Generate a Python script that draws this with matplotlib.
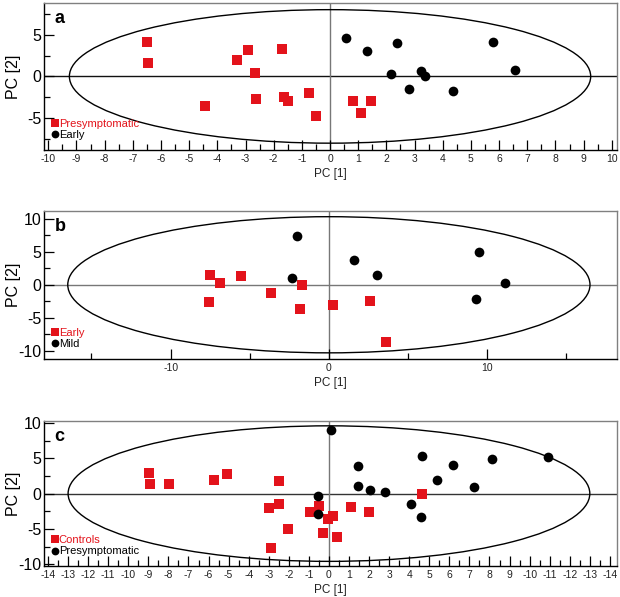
import matplotlib
matplotlib.use("Agg")
import matplotlib.pyplot as plt
from matplotlib.patches import Ellipse
from matplotlib.ticker import MultipleLocator, FixedLocator

plt.rcParams['font.family'] = ['Liberation Sans', 'DejaVu Sans']
plt.rcParams['axes.unicode_minus'] = False

RED = '#e3131b'

# panel a : Presymptomatic (red) vs Early (black)
a_red_x = [-6.5, -6.45, -3.3, -2.9, -2.65, -1.7, -4.45, -2.62, -1.65, -1.5, -0.73, -0.5, 0.82, 1.45, 1.1]
a_red_y = [4.1, 1.6, 2.0, 3.2, 0.4, 3.3, -3.5, -2.7, -2.5, -3.0, -2.0, -4.7, -2.95, -3.0, -4.4]
a_blk_x = [0.57, 1.32, 2.36, 2.17, 3.22, 3.36, 2.8, 4.37, 5.78, 6.55]
a_blk_y = [4.6, 3.1, 4.05, 0.3, 0.63, 0.08, -1.46, -1.77, 4.1, 0.75]

# panel b : Early (red) vs Mild (black)
b_red_x = [-7.5, -6.9, -5.55, -7.55, -3.65, -1.7, -1.82, 0.28, 2.6, 3.58]
b_red_y = [1.42, 0.25, 1.27, -2.6, -1.2, -0.1, -3.7, -3.05, -2.4, -8.6]
b_blk_x = [-2.0, -2.3, 1.58, 3.05, 9.5, 11.15, 9.28]
b_blk_y = [7.4, 0.96, 3.7, 1.42, 4.97, 0.3, -2.13]

# panel c : Controls (red) vs Presymptomatic (black)
c_red_x = [-8.95, -8.9, -7.95, -5.75, -5.06, -2.5, -2.97, -2.48, -2.03, -2.91,
           -0.93, -0.51, -0.04, 0.22, -0.28, 0.41, 1.12, 1.99, 4.63]
c_red_y = [2.89, 1.42, 1.42, 1.94, 2.8, 1.75, -2.0, -1.47, -5.0, -7.7,
           -2.56, -1.8, -3.55, -3.2, -5.6, -6.2, -1.85, -2.65, -0.1]
c_blk_x = [0.08, -0.55, -0.55, 1.44, 1.46, 2.03, 2.81, 4.07, 4.57, 4.63, 5.39, 6.18, 7.24, 8.11, 10.93]
c_blk_y = [8.96, -0.38, -2.9, 3.84, 1.09, 0.57, 0.24, -1.52, -3.27, 5.26, 1.99, 4.08, 0.95, 4.93, 5.17]

# tick labels of panel c as printed in the original figure
c_xticks = list(range(-14, 15))
c_xtick_labels = [str(v) for v in range(-14, 10)] + ['-10', '-11', '-12', '-13', '-14']

# hotelling ellipse half axes
a_ell = (9.25, 8.0)
b_ell = (16.5, 10.3)
c_ell = (13.0, 9.6)


def style_axes(ax, hline_color):
    ax.axhline(0, color=hline_color, lw=1.0, zorder=1)
    ax.axvline(0, color='#777777', lw=1.0, zorder=1)
    for s in ['top', 'right']:
        ax.spines[s].set_color('#808080')
    for s in ['left', 'bottom']:
        ax.spines[s].set_color('black')
    for s in ax.spines.values():
        s.set_linewidth(1.0)
    ax.tick_params(axis='both', which='both', direction='in', color='black', width=0.9)
    ax.tick_params(axis='both', which='major', length=7)
    ax.tick_params(axis='both', which='minor', length=4)
    ax.tick_params(axis='x', labelsize=7.5, pad=3, labelcolor='#222222')
    ax.tick_params(axis='y', labelsize=11.5, pad=2)
    ax.tick_params(top=False, right=False, which='both')
    ax.set_xlabel('PC [1]', fontsize=8.5, labelpad=3, color='#222222')
    ax.set_ylabel('PC [2]', fontsize=11.5)
    ax.yaxis.set_label_coords(-0.041, 0.5)
    ax.yaxis.set_major_locator(MultipleLocator(5))
    ax.yaxis.set_minor_locator(MultipleLocator(2.5))


def draw_panel(ax, letter, rx, ry, bx, by, ell, names, hline_color):
    ax.add_patch(Ellipse((0, 0), 2 * ell[0], 2 * ell[1], fill=False, ec='black', lw=1.0, zorder=2))
    ax.plot(rx, ry, 's', color=RED, ms=6.5, mew=0, ls='none', label=names[0], zorder=3)
    ax.plot(bx, by, 'o', color='black', ms=7, mew=0, ls='none', label=names[1], zorder=3)
    ax.text(0.018, 0.95, letter, transform=ax.transAxes, fontsize=13, fontweight='bold',
            va='top', ha='left')
    ax.legend(loc='lower left', bbox_to_anchor=(0.006, 0.035), frameon=False, fontsize=8,
              handlelength=0.5, handletextpad=0.12, labelspacing=0.12, borderaxespad=0,
              markerscale=0.8, labelcolor=[RED, 'black'])
    style_axes(ax, hline_color)


fig = plt.figure(figsize=(6.2, 5.97), dpi=100)

ax_a = fig.add_axes([0.071, 0.749, 0.924, 0.246])
draw_panel(ax_a, 'a', a_red_x, a_red_y, a_blk_x, a_blk_y, a_ell, ['Presymptomatic', 'Early'], '#111111')
ax_a.set_xlim(-10.15, 10.18)
ax_a.set_ylim(-8.8, 8.8)
ax_a.xaxis.set_major_locator(MultipleLocator(1))
ax_a.xaxis.set_minor_locator(MultipleLocator(0.5))

ax_b = fig.add_axes([0.071, 0.399, 0.924, 0.248])
draw_panel(ax_b, 'b', b_red_x, b_red_y, b_blk_x, b_blk_y, b_ell, ['Early', 'Mild'], '#777777')
ax_b.set_xlim(-18.0, 18.2)
ax_b.set_ylim(-11.2, 11.2)
ax_b.xaxis.set_major_locator(MultipleLocator(10))
ax_b.xaxis.set_minor_locator(FixedLocator([-15, -5, 5, 15]))

ax_c = fig.add_axes([0.071, 0.052, 0.924, 0.243])
draw_panel(ax_c, 'c', c_red_x, c_red_y, c_blk_x, c_blk_y, c_ell, ['Controls', 'Presymptomatic'], '#333333')
ax_c.set_xlim(-14.2, 14.35)
ax_c.set_ylim(-10.25, 10.3)
ax_c.set_xticks(c_xticks)
ax_c.set_xticklabels(c_xtick_labels)
ax_c.xaxis.set_minor_locator(MultipleLocator(0.5))

fig.savefig('out.png', dpi=100)
